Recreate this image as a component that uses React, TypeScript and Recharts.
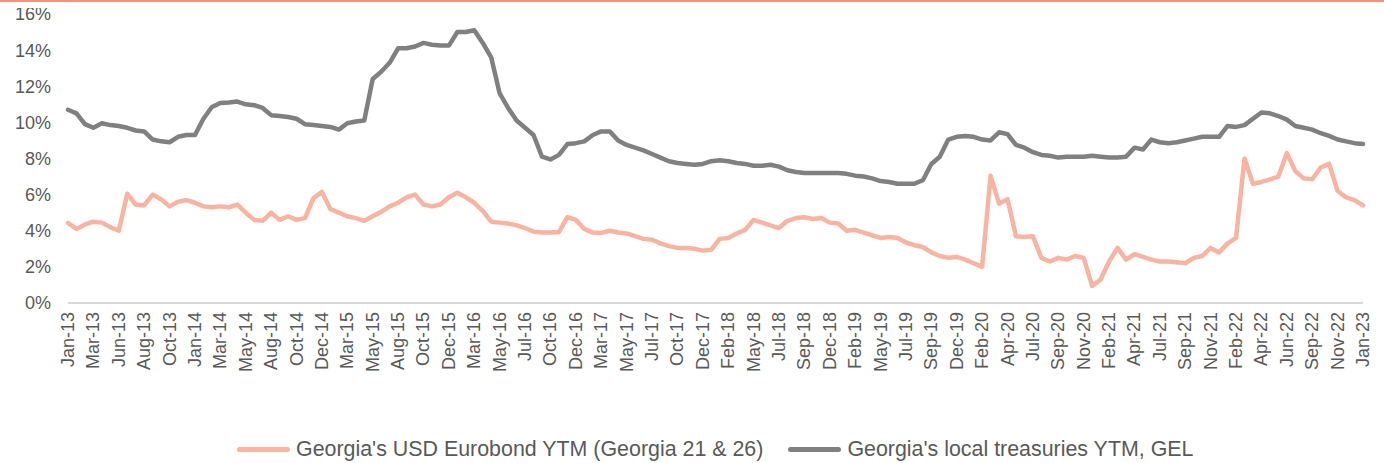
import React from 'react';
import { LineChart, Line, XAxis, YAxis, Legend } from 'recharts';

// x-axis labels, one every 3 data points
const tickLabels = [
  'Jan-13', 'Mar-13', 'Jun-13', 'Aug-13', 'Oct-13', 'Jan-14', 'Mar-14', 'May-14', 'Aug-14', 'Oct-14',
  'Dec-14', 'Mar-15', 'May-15', 'Aug-15', 'Oct-15', 'Dec-15', 'Mar-16', 'May-16', 'Jul-16', 'Oct-16',
  'Dec-16', 'Mar-17', 'May-17', 'Jul-17', 'Oct-17', 'Dec-17', 'Feb-18', 'May-18', 'Jul-18', 'Sep-18',
  'Dec-18', 'Feb-19', 'May-19', 'Jul-19', 'Sep-19', 'Dec-19', 'Feb-20', 'Apr-20', 'Jul-20', 'Sep-20',
  'Nov-20', 'Feb-21', 'Apr-21', 'Jul-21', 'Sep-21', 'Nov-21', 'Feb-22', 'Apr-22', 'Jun-22', 'Sep-22',
  'Nov-22', 'Jan-23',
];

// Georgia's USD Eurobond YTM, %
const eurobond = [
  4.43, 4.1, 4.35, 4.5, 4.45, 4.2, 4.0, 6.05, 5.45, 5.4,
  6.0, 5.75, 5.35, 5.6, 5.7, 5.55, 5.35, 5.3, 5.35, 5.3,
  5.45, 5.0, 4.6, 4.55, 5.0, 4.6, 4.8, 4.6, 4.7, 5.8,
  6.15, 5.2, 5.0, 4.8, 4.7, 4.55, 4.8, 5.05, 5.35, 5.55,
  5.85, 6.0, 5.45, 5.35, 5.45, 5.85, 6.1, 5.85, 5.55, 5.1,
  4.5, 4.45, 4.4, 4.3, 4.15, 3.95, 3.9, 3.9, 3.93, 4.75,
  4.6, 4.1, 3.9, 3.88, 4.0, 3.9, 3.85, 3.7, 3.55, 3.5,
  3.3, 3.15, 3.05, 3.05, 3.0, 2.9, 2.95, 3.55, 3.6, 3.85,
  4.05, 4.6, 4.45, 4.3, 4.15, 4.55, 4.7, 4.75, 4.65, 4.7,
  4.45, 4.4, 4.0, 4.05, 3.9, 3.75, 3.6, 3.65, 3.6, 3.35,
  3.2, 3.1, 2.8, 2.6, 2.5, 2.55, 2.4, 2.2, 2.0, 7.05,
  5.5, 5.75, 3.7, 3.65, 3.7, 2.5, 2.3, 2.5, 2.4, 2.6,
  2.5, 0.95, 1.3, 2.3, 3.05, 2.4, 2.7, 2.55, 2.4, 2.3,
  2.3, 2.25, 2.2, 2.5, 2.6, 3.05, 2.8, 3.3, 3.6, 8.0,
  6.6, 6.7, 6.85, 7.0, 8.3, 7.3, 6.9, 6.85, 7.5, 7.7,
  6.2, 5.85, 5.7, 5.4,
];

// Georgia's local treasuries YTM, GEL, %
const treasuries = [
  10.7, 10.5, 9.9, 9.7, 9.95, 9.85, 9.8, 9.7, 9.55, 9.5,
  9.05, 8.95, 8.9, 9.2, 9.3, 9.3, 10.2, 10.85, 11.07, 11.1,
  11.15, 11.0, 10.95, 10.8, 10.4, 10.35, 10.3, 10.2, 9.9, 9.85,
  9.8, 9.75, 9.6, 9.95, 10.05, 10.1, 12.4, 12.8, 13.3, 14.1,
  14.1, 14.2, 14.4, 14.3, 14.25, 14.25, 15.0, 15.0, 15.1, 14.4,
  13.6, 11.6, 10.8, 10.1, 9.7, 9.3, 8.1, 7.95, 8.2, 8.8,
  8.85, 8.95, 9.3, 9.5, 9.5, 9.0, 8.75, 8.6, 8.45, 8.25,
  8.05, 7.85, 7.75, 7.7, 7.65, 7.7, 7.85, 7.9, 7.85, 7.75,
  7.7, 7.6, 7.6, 7.65, 7.55, 7.35, 7.25, 7.2, 7.2, 7.2,
  7.2, 7.2, 7.15, 7.05, 7.0, 6.9, 6.75, 6.7, 6.6, 6.6,
  6.6, 6.8, 7.7, 8.1, 9.05, 9.2, 9.25, 9.2, 9.05, 9.0,
  9.45, 9.35, 8.75, 8.6, 8.35, 8.2, 8.15, 8.05, 8.1, 8.1,
  8.1, 8.15, 8.1, 8.05, 8.05, 8.1, 8.6, 8.5, 9.05, 8.9,
  8.85, 8.9, 9.0, 9.1, 9.2, 9.2, 9.2, 9.8, 9.75, 9.85,
  10.2, 10.55, 10.5, 10.35, 10.15, 9.8, 9.7, 9.6, 9.4, 9.25,
  9.05, 8.95, 8.85, 8.8,
];

const yTicks = [0, 2, 4, 6, 8, 10, 12, 14, 16];

const ORANGE = '#F9B4A1';
const GRAY = '#808080';
const TEXT = '#595959';
const FONT = '"Liberation Sans", Arial, sans-serif';

const data = eurobond.map((v, i) => ({ idx: i, eurobond: v, treasuries: treasuries[i] }));
const xTicks = tickLabels.map((_, k) => k * 3);

const XTick = (props: any) => {
  const { x, y, payload } = props;
  return (
    <text
      x={x}
      y={y}
      transform={`rotate(-90 ${x} ${y})`}
      textAnchor="end"
      dominantBaseline="central"
      fill={TEXT}
      fontSize={18}
      fontFamily={FONT}
    >
      {tickLabels[Math.round(payload.value / 3)]}
    </text>
  );
};

const legendItems = [
  { name: "Georgia's USD Eurobond YTM (Georgia 21 & 26)", color: ORANGE },
  { name: "Georgia's local treasuries YTM, GEL", color: GRAY },
];

const LegendContent = () => (
  <div
    style={{
      display: 'flex',
      justifyContent: 'flex-start',
      paddingLeft: 229,
      gap: 25,
      height: 24,
      lineHeight: '24px',
      fontFamily: FONT,
      fontSize: 21.4,
      color: TEXT,
    }}
  >
    {legendItems.map((it) => (
      <div key={it.name} style={{ display: 'flex', alignItems: 'center' }}>
        <div style={{ width: 53, height: 5, borderRadius: 3, background: it.color, marginRight: 6 }} />
        <span>{it.name}</span>
      </div>
    ))}
  </div>
);

export default function App() {
  return (
    <div style={{ width: 1376, height: 455, background: '#fff' }}>
      <style>{'.recharts-surface { overflow: visible; }'}</style>
      <div style={{ position: 'fixed', left: 0, top: 0, width: 1384, height: 2, background: '#F4937B', zIndex: 5 }} />
      <LineChart width={1376} height={455} data={data} margin={{ top: 6, right: 21, bottom: 2, left: 0 }}>
        <XAxis
          dataKey="idx"
          type="number"
          domain={[0, eurobond.length - 1]}
          ticks={xTicks}
          interval={0}
          tick={<XTick />}
          tickLine={false}
          tickSize={0}
          tickMargin={9}
          axisLine={{ stroke: '#D9D9D9', strokeWidth: 2 }}
          height={134}
        />
        <YAxis
          domain={[0, 16]}
          ticks={yTicks}
          interval={0}
          tickFormatter={(v: number) => `${v}%`}
          tick={{ fill: TEXT, fontSize: 18, fontFamily: FONT }}
          axisLine={false}
          tickLine={false}
          tickSize={0}
          tickMargin={17}
          width={60}
        />
        <Legend verticalAlign="bottom" height={24} wrapperStyle={{ left: 0, width: 1376 }} content={<LegendContent />} />
        <Line
          dataKey="eurobond"
          stroke={ORANGE}
          strokeWidth={4.5}
          dot={false}
          type="linear"
          strokeLinejoin="round"
          strokeLinecap="round"
          isAnimationActive={false}
        />
        <Line
          dataKey="treasuries"
          stroke={GRAY}
          strokeWidth={4.5}
          dot={false}
          type="linear"
          strokeLinejoin="round"
          strokeLinecap="round"
          isAnimationActive={false}
        />
      </LineChart>
    </div>
  );
}
